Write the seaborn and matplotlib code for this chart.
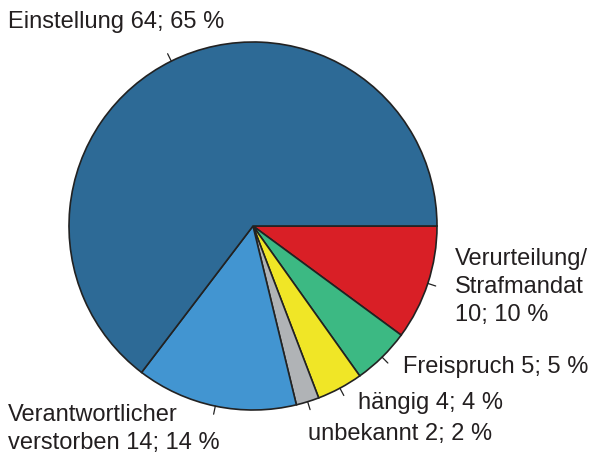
import matplotlib
matplotlib.use('Agg')
import matplotlib.pyplot as plt
import numpy as np
import seaborn as sns

# data, clockwise from 3 o'clock
categories = ['Verurteilung/\nStrafmandat', 'Freispruch', 'hängig', 'unbekannt',
              'Verantwortlicher\nverstorben', 'Einstellung']
counts = [10, 5, 4, 2, 14, 64]
percents = [10, 5, 4, 2, 14, 65]
colors = ['#d91f26', '#3cb983', '#f0e626', '#b0b3b6', '#4295d1', '#2d6a96']

sns.set_theme(style='white')
plt.rcParams['font.family'] = ['Liberation Sans', 'DejaVu Sans']

W, H = 596, 455
cx, cy, R = 253, 226, 184

fig = plt.figure(figsize=(W / 100, H / 100), dpi=100)
ax = fig.add_axes([0, 0, 1, 1])

wedges, _ = ax.pie(counts, colors=colors, startangle=0, counterclock=False,
                   wedgeprops=dict(edgecolor='#222222', linewidth=1.2))
ax.set_aspect('auto')
ax.set_xlim(-cx / R, (W - cx) / R)
ax.set_ylim(-(H - cy) / R, cy / R)
ax.axis('off')

# small ticks at the middle of each slice
for w in wedges:
    a = np.deg2rad((w.theta1 + w.theta2) / 2)
    ax.plot([np.cos(a), 1.045 * np.cos(a)], [np.sin(a), 1.045 * np.sin(a)],
            color='#222222', lw=0.9)


def px(x, y):
    return (x - cx) / R, (cy - y) / R


label_pos = [(455, 287), (403, 367), (358, 403), (308, 434), (8, 429), (8, 22)]
for cat, n, p, (x, y) in zip(categories, counts, percents, label_pos):
    if cat.startswith('Verurteilung'):
        txt = '{}\n{}; {} %'.format(cat, n, p)
    else:
        txt = '{} {}; {} %'.format(cat, n, p)
    ax.text(*px(x, y), txt, ha='left', va='center', fontsize=17,
            color='#231f20', linespacing=1.33)

fig.savefig('out.png', dpi=100)
